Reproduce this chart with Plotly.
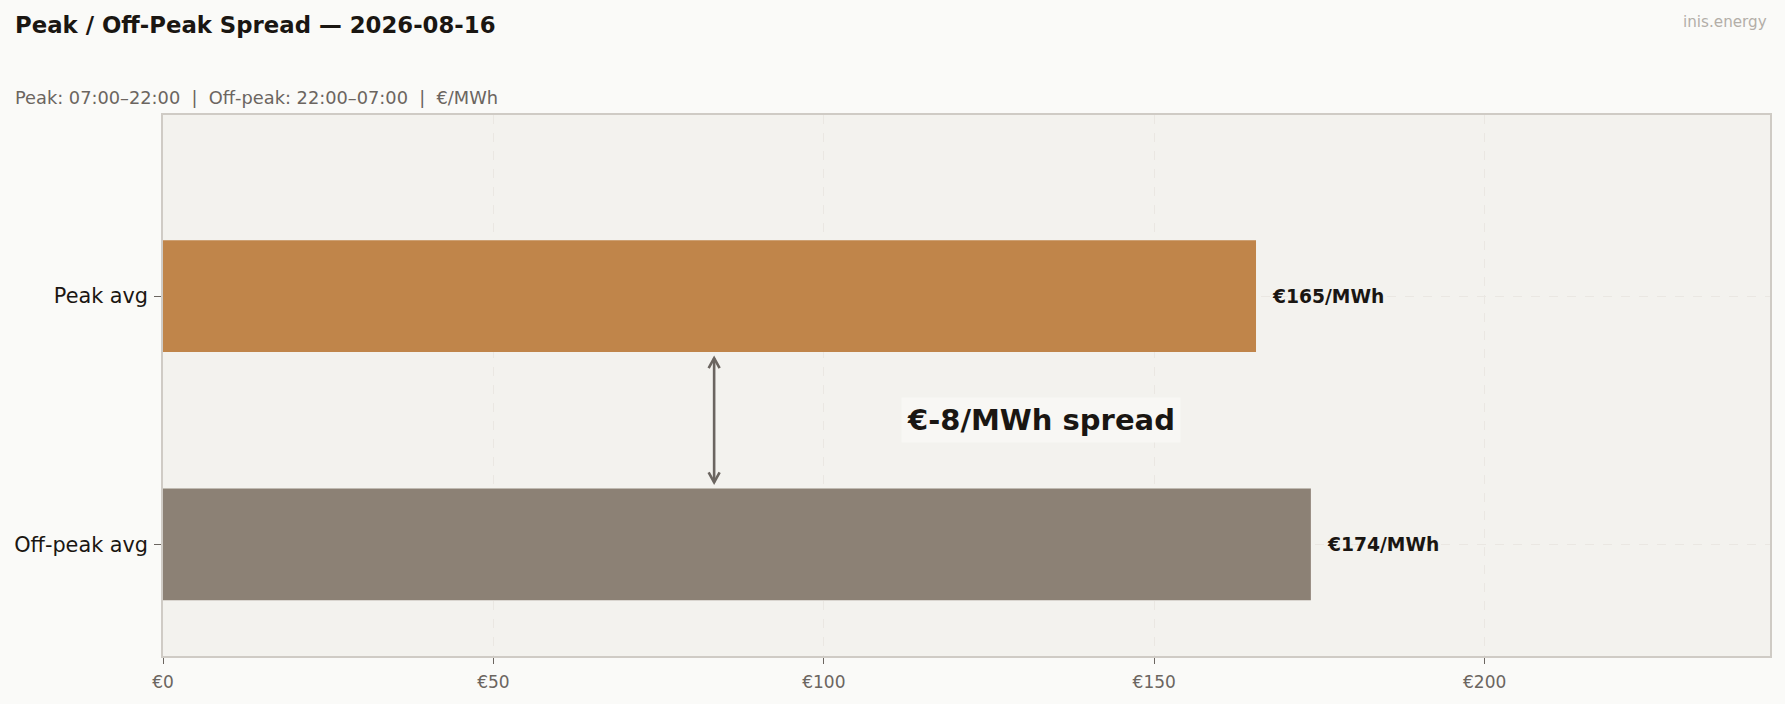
import plotly.graph_objects as go

# données
categories = ["Off-peak avg", "Peak avg"]
values = [173.7, 165.4]
bar_colors = ["#8C8175", "#C0854A"]
value_labels = ["€174/MWh", "€165/MWh"]
x_ticks = [0, 50, 100, 150, 200]
x_tick_labels = ["€0", "€50", "€100", "€150", "€200"]
spread_label = "€-8/MWh spread"

title = "Peak / Off-Peak Spread — 2026-08-16"
subtitle = "Peak: 07:00–22:00  |  Off-peak: 22:00–07:00  |  €/MWh"

FONT = "DejaVu Sans"
DARK = "#1a1612"
GREY = "#6b6560"

x_max = max(values) * 1.4
arrow_x = 83.4

fig = go.Figure(go.Bar(
    x=values,
    y=[0, 1],
    orientation="h",
    width=0.45,
    marker=dict(color=bar_colors, line=dict(width=0)),
    hoverinfo="skip",
))

# étiquettes de valeur à droite des barres
for i, (v, lab) in enumerate(zip(values, value_labels)):
    fig.add_annotation(x=v, y=i, text=lab, showarrow=False, xanchor="left",
                       xshift=14, font=dict(family=FONT, size=18.7, color=DARK, weight="bold"))

# flèche double entre les barres (pointes ouvertes)
fig.add_shape(type="line", x0=arrow_x, x1=arrow_x, y0=0.25, y1=0.75,
              line=dict(color=GREY, width=2.6))
fig.add_shape(type="path", xsizemode="pixel", ysizemode="pixel",
              xanchor=arrow_x, yanchor=0.75, path="M -5.5,-10 L 0,0 L 5.5,-10",
              line=dict(color=GREY, width=2.6))
fig.add_shape(type="path", xsizemode="pixel", ysizemode="pixel",
              xanchor=arrow_x, yanchor=0.25, path="M -5.5,10 L 0,0 L 5.5,10",
              line=dict(color=GREY, width=2.6))

# texte de l'écart
fig.add_annotation(x=132.8, y=0.5, text=spread_label, showarrow=False,
                   xanchor="center", yanchor="middle",
                   font=dict(family=FONT, size=29, color=DARK, weight="bold"),
                   bgcolor="#F8F7F4", borderpad=5)

fig.add_annotation(xref="paper", yref="paper", x=0, y=1, xanchor="left", yanchor="middle",
                   xshift=-150, yshift=18, text=subtitle, showarrow=False,
                   font=dict(family=FONT, size=17.8, color=GREY))

fig.add_annotation(xref="paper", yref="paper", x=1, y=1, xanchor="right", yanchor="middle",
                   xshift=-1, yshift=93, text="inis.energy", showarrow=False,
                   font=dict(family=FONT, size=15.2, color="#b3aea8"))

fig.update_layout(
    width=1785, height=704,
    margin=dict(l=163, r=15, t=115, b=48),
    paper_bgcolor="#FAFAF8",
    plot_bgcolor="#F3F2EE",
    showlegend=False,
    title=dict(text="<b>" + title + "</b>", x=15 / 1785, xanchor="left",
               y=1 - 25 / 704, yanchor="middle",
               font=dict(family=FONT, size=22.8, color=DARK)),
    xaxis=dict(range=[0, x_max], tickvals=x_ticks, ticktext=x_tick_labels,
               tickfont=dict(family=FONT, size=17, color=GREY),
               ticks="outside", ticklen=6, tickcolor=GREY, ticklabelstandoff=4,
               showgrid=True, gridcolor="#EAE7E2", griddash="dash", gridwidth=1,
               showline=True, linecolor="#CFCBC5", linewidth=1.5, mirror=True,
               zeroline=False, fixedrange=True),
    yaxis=dict(range=[-0.45, 1.73], tickvals=[0, 1], ticktext=categories,
               tickfont=dict(family=FONT, size=20.8, color=DARK),
               ticks="outside", ticklen=7, tickcolor=GREY, ticklabelstandoff=2,
               showgrid=True, gridcolor="#EAE7E2", griddash="dash", gridwidth=1,
               showline=True, linecolor="#CFCBC5", linewidth=1.5, mirror=True,
               zeroline=False, fixedrange=True),
)

fig.write_html("out.html", config={"displayModeBar": False},
               post_script="document.body.style.margin='0';"
                           "document.body.style.background='#FAFAF8';")
